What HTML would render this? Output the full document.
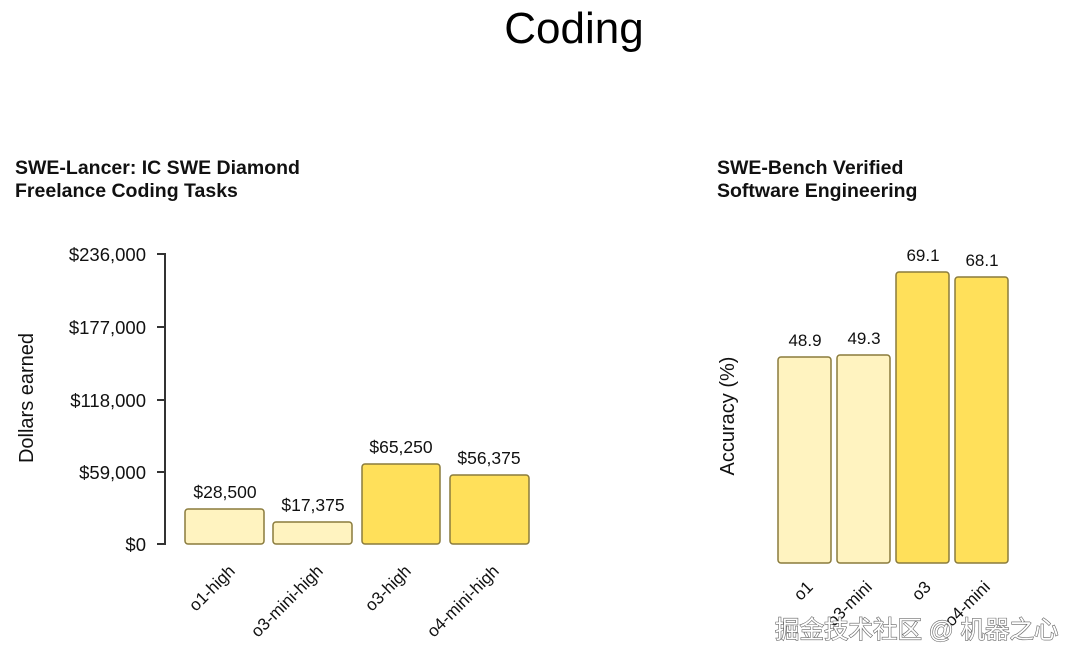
<!DOCTYPE html>
<html><head><meta charset="utf-8"><style>
html,body{margin:0;padding:0;background:#fff;}
svg{display:block;font-family:"Liberation Sans","Noto Sans CJK SC",sans-serif;}
</style></head><body>
<svg width="1080" height="662" viewBox="0 0 1080 662" xmlns="http://www.w3.org/2000/svg">
<text x="574" y="43" font-size="44" text-anchor="middle" fill="#000">Coding</text>
<g font-size="19.5" font-weight="bold" fill="#111">
<text x="15" y="174">SWE-Lancer: IC SWE Diamond</text>
<text x="15" y="197">Freelance Coding Tasks</text>
<text x="717" y="174">SWE-Bench Verified</text>
<text x="717" y="197">Software Engineering</text>
</g>
<line x1="165" y1="253" x2="165" y2="545" stroke="#333" stroke-width="2"/>
<g stroke="#333" stroke-width="2">
<line x1="157" y1="254" x2="165" y2="254"/><line x1="157" y1="327" x2="165" y2="327"/>
<line x1="157" y1="400" x2="165" y2="400"/><line x1="157" y1="472" x2="165" y2="472"/>
<line x1="157" y1="544" x2="165" y2="544"/>
</g>
<g font-size="18.5" text-anchor="end" fill="#111">
<text x="146" y="261">$236,000</text><text x="146" y="334">$177,000</text>
<text x="146" y="407">$118,000</text><text x="146" y="479">$59,000</text>
<text x="146" y="551">$0</text>
</g>
<text transform="translate(33,398) rotate(-90)" font-size="20" text-anchor="middle" fill="#111">Dollars earned</text>
<g stroke="#8a7b3c" stroke-width="1.5">
<rect x="185" y="509" width="79" height="35" rx="3" fill="#fff3c0"/>
<rect x="273" y="522" width="79" height="22" rx="3" fill="#fff3c0"/>
<rect x="362" y="464" width="78" height="80" rx="3" fill="#ffe05a"/>
<rect x="450" y="475" width="79" height="69" rx="3" fill="#ffe05a"/>
</g>
<g font-size="17.5" text-anchor="middle" fill="#111">
<text x="225" y="498">$28,500</text><text x="313" y="511">$17,375</text>
<text x="401" y="453">$65,250</text><text x="489" y="464">$56,375</text>
</g>
<g font-size="17" text-anchor="end" fill="#111">
<text transform="translate(236,572) rotate(-45)">o1-high</text>
<text transform="translate(324,572) rotate(-45)">o3-mini-high</text>
<text transform="translate(412,572) rotate(-45)">o3-high</text>
<text transform="translate(500,572) rotate(-45)">o4-mini-high</text>
</g>
<text transform="translate(734,416) rotate(-90)" font-size="20" text-anchor="middle" fill="#111">Accuracy (%)</text>
<g stroke="#8a7b3c" stroke-width="1.5">
<rect x="778" y="357" width="53" height="206" rx="3" fill="#fff3c0"/>
<rect x="837" y="355" width="53" height="208" rx="3" fill="#fff3c0"/>
<rect x="896" y="272" width="53" height="291" rx="3" fill="#ffe05a"/>
<rect x="955" y="277" width="53" height="286" rx="3" fill="#ffe05a"/>
</g>
<g font-size="17" text-anchor="middle" fill="#111">
<text x="805" y="346">48.9</text><text x="864" y="344">49.3</text>
<text x="923" y="261">69.1</text><text x="982" y="266">68.1</text>
</g>
<g font-size="17" text-anchor="end" fill="#111">
<text transform="translate(814,588) rotate(-45)">o1</text>
<text transform="translate(873,588) rotate(-45)">o3-mini</text>
<text transform="translate(932,588) rotate(-45)">o3</text>
<text transform="translate(991,588) rotate(-45)">o4-mini</text>
</g>
<text x="775" y="638" font-size="24.5" fill="#fff" stroke="#666" stroke-width="1.2" paint-order="stroke">掘金技术社区 @ 机器之心</text>
</svg>
</body></html>
